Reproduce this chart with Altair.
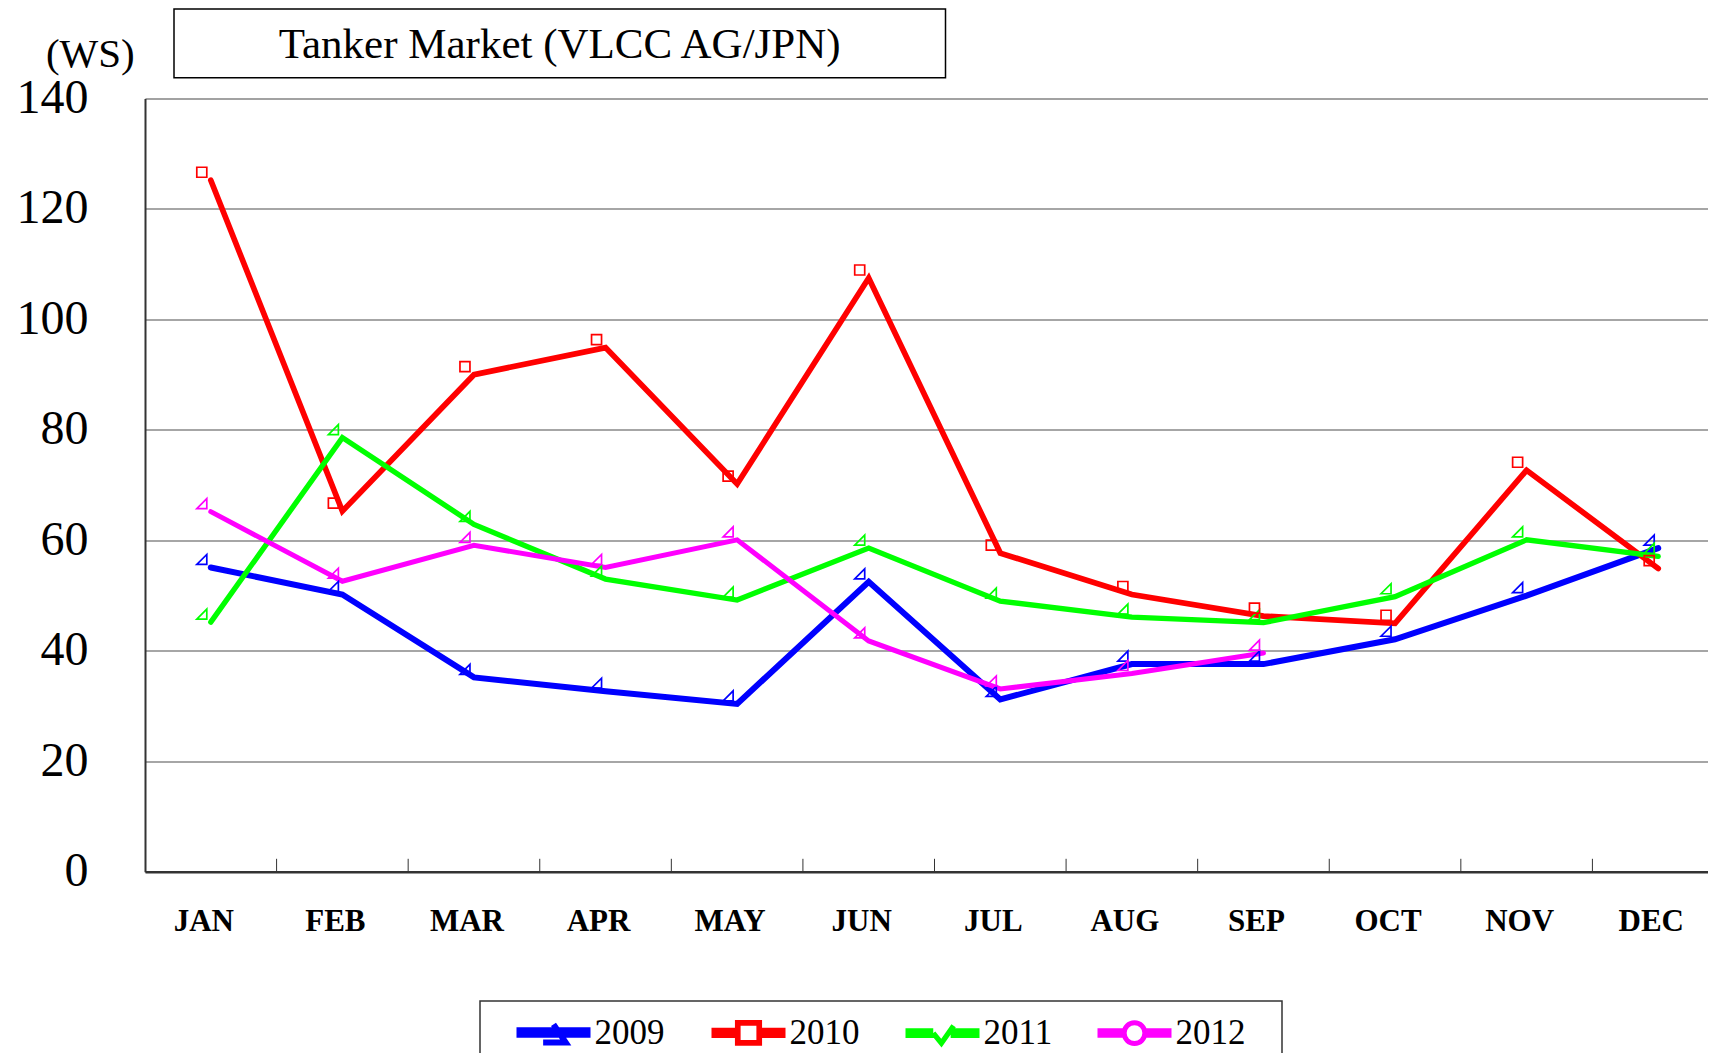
import altair as alt
import pandas as pd

months = ["JAN", "FEB", "MAR", "APR", "MAY", "JUN", "JUL", "AUG", "SEP", "OCT", "NOV", "DEC"]
years = ["2009", "2010", "2011", "2012"]
ws_2009 = [55.1, 50.2, 35.2, 32.7, 30.4, 52.5, 31.2, 37.6, 37.6, 42.1, 50.0, 58.6]
ws_2010 = [125.2, 65.3, 90.0, 94.9, 70.2, 107.5, 57.7, 50.2, 46.3, 45.0, 72.7, 54.9]
ws_2011 = [45.2, 78.6, 62.9, 53.0, 49.2, 58.6, 49.0, 46.1, 45.1, 49.8, 60.1, 57.1]
ws_2012 = [65.2, 52.6, 59.1, 55.1, 60.1, 41.8, 33.1, 35.9, 39.6]
colors = ["#0000FF", "#FF0000", "#00FF00", "#FF00FF"]
line_widths = [6, 5, 5, 5]
y_ticks = [0, 20, 40, 60, 80, 100, 120, 140]
title_text = "Tanker Market (VLCC AG/JPN)"
unit_text = "(WS)"

series = {"2009": ws_2009, "2010": ws_2010, "2011": ws_2011, "2012": ws_2012}
rows = []
for yr, vals in series.items():
    for m, v in zip(months, vals):
        rows.append({"month": m, "year": yr, "value": v})
df = pd.DataFrame(rows)

# geometry
PL, PT = 137, 90.5
W, H = 1563, 773.3
XR = 1579
SERIF = "Liberation Serif"


def hl(a, b):
    return "".join(f"M{a},{o}H{b}" for o in (-0.06, -0.02, 0.02, 0.06))


legend_paths = [
    hl(-1, 1) + "M0,-0.22L0.33,0.27H-0.28",
    hl(-1, -0.29) + hl(0.29, 1) + "M-0.29,-0.27H0.29V0.27H-0.29Z",
    hl(-1, -0.25) + hl(0.22, 1) + "M-0.25,0L-0.03,0.27L0.3,-0.2",
    hl(-1, -0.28) + hl(0.28, 1)
    + "M-0.28,0A0.28,0.28 0 1,0 0.28,0A0.28,0.28 0 1,0 -0.28,0",
]
tri_path = "M-1,1L1,1L1,-1Z"

leg = alt.Legend(
    title=None, orient="none", legendX=368.5, legendY=894,
    direction="horizontal", columns=4,
    symbolSize=5476, symbolStrokeWidth=1.7, symbolOpacity=1,
    labelFont=SERIF, labelFontSize=35, labelColor="black",
    labelOffset=1, columnPadding=35, labelLimit=0,
)

xenc = alt.X(
    "month:N", sort=months,
    scale=alt.Scale(type="band", paddingInner=0, paddingOuter=0, range=[0, XR]),
    axis=alt.Axis(
        title=None, ticks=False, labelPadding=50, labelOffset=-7, labelAngle=0,
        labelAlign="center",
        labelFont=SERIF, labelFontSize=31, labelFontWeight="bold", labelColor="black",
        domainColor="#333", domainWidth=2.5, grid=False,
    ),
)
yenc = alt.Y(
    "value:Q",
    scale=alt.Scale(domain=[0, 140], nice=False),
    axis=alt.Axis(
        title=None, values=y_ticks, ticks=False, labelPadding=57,
        labelFont=SERIF, labelFontSize=48, labelColor="black",
        gridColor="#888", gridWidth=1.5, domainColor="#333", domainWidth=2,
    ),
)
cenc = alt.Color("year:N", scale=alt.Scale(domain=years, range=colors), legend=leg)

base = alt.Chart(df)

lines = base.mark_line(strokeCap="round").encode(
    x=xenc, y=yenc, color=cenc,
    strokeWidth=alt.StrokeWidth("year:N", scale=alt.Scale(domain=years, range=line_widths), legend=None),
)

tri_markers = base.transform_filter("datum.year != '2010'").mark_point(
    shape=tri_path, filled=False, size=100, strokeWidth=1.7, opacity=1, xOffset=-9, yOffset=-8
).encode(x=xenc, y=yenc, color=cenc)

sq_markers = base.transform_filter("datum.year == '2010'").mark_point(
    shape="square", filled=False, size=100, strokeWidth=1.7, opacity=1, xOffset=-9, yOffset=-8
).encode(x=xenc, y=yenc, color=cenc)

legend_layer = base.mark_point(opacity=0, filled=False).encode(
    x=xenc, y=yenc, color=cenc,
    shape=alt.Shape("year:N", scale=alt.Scale(domain=years, range=legend_paths), legend=leg),
)

tick_df = pd.DataFrame({"month": months[1:]})
ticks = alt.Chart(tick_df).mark_rule(color="#333", strokeWidth=1).encode(
    x=alt.X("month:N", sort=months, bandPosition=0),
    y=alt.value(H - 13), y2=alt.value(H),
)

tdf = pd.DataFrame({"t": [title_text]})
title_box = alt.Chart(tdf).mark_rect(fill="white", stroke="black", strokeWidth=1.5).encode(
    x=alt.value(29), x2=alt.value(800.5), y=alt.value(-89.5), y2=alt.value(-20.8)
)
title_txt = alt.Chart(tdf).mark_text(
    font=SERIF, fontSize=43, color="black", align="center", baseline="middle"
).encode(x=alt.value(414.7), y=alt.value(-53.6), text="t:N")

udf = pd.DataFrame({"t": [unit_text]})
unit_txt = alt.Chart(udf).mark_text(
    font=SERIF, fontSize=41, color="black", align="center", baseline="middle"
).encode(x=alt.value(-54.7), y=alt.value(-43.8), text="t:N")

ldf = pd.DataFrame({"t": ["legend"]})
legend_box = alt.Chart(ldf).mark_rect(fill="white", stroke="#333", strokeWidth=1.5).encode(
    x=alt.value(335), x2=alt.value(1137), y=alt.value(902.5), y2=alt.value(1000)
)

chart = alt.layer(
    title_box, legend_box, ticks, lines, tri_markers, sq_markers, legend_layer,
    title_txt, unit_txt,
).properties(
    width=W, height=H,
    autosize=alt.AutoSizeParams(type="none"),
    padding={"left": PL, "top": PT, "right": 0, "bottom": 181.2},
).configure_view(stroke=None).configure(background="white")

chart.save("out.html", embed_options={"renderer": "svg", "actions": False})
